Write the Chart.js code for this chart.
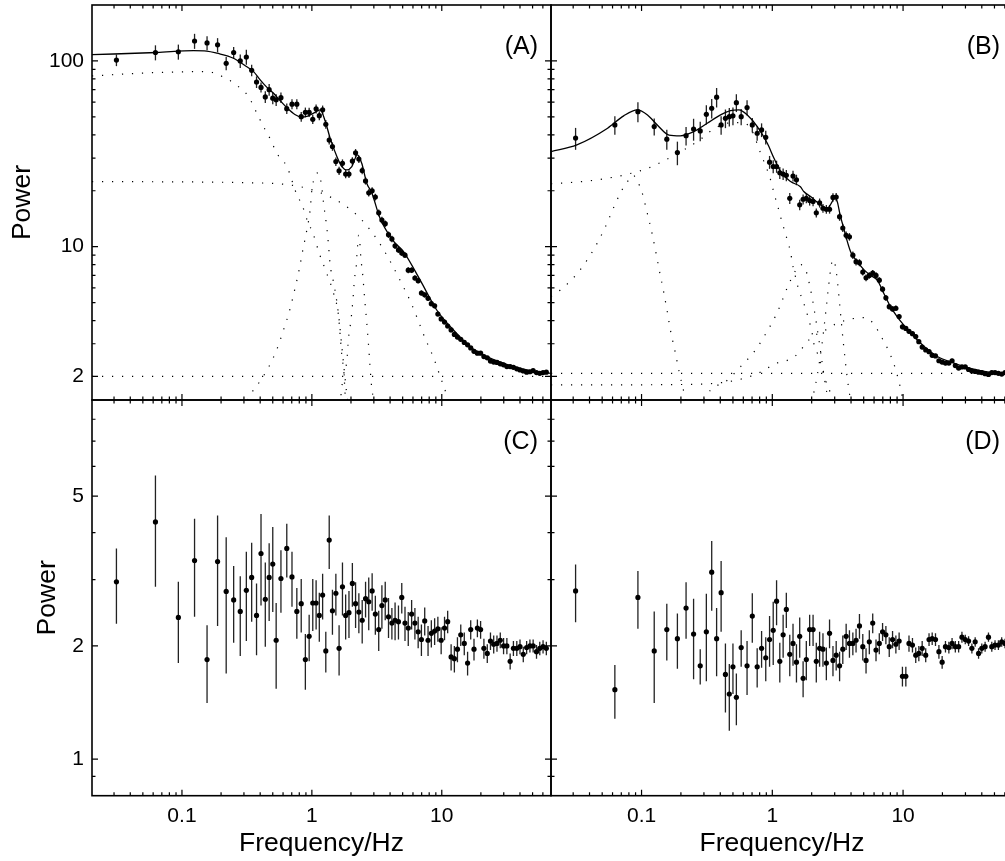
<!DOCTYPE html>
<html>
<head>
<meta charset="utf-8">
<title>Power spectra</title>
<script src="https://cdn.jsdelivr.net/npm/chart.js"></script>
<style>
  html, body { margin: 0; padding: 0; background: #fff; overflow: hidden; }
  #wrap { position: relative; width: 1005px; height: 861px; overflow: hidden; }
  #wrap canvas { position: absolute; left: 0; top: 0; }
</style>
</head>
<body>
<div id="wrap">
  <canvas id="panel-a" width="1020" height="861"></canvas>
  <canvas id="panel-b" width="1020" height="861"></canvas>
  <canvas id="panel-c" width="1020" height="861"></canvas>
  <canvas id="panel-d" width="1020" height="861"></canvas>
</div>
<script>
// --- data: frequency bins (Hz), shared by all four panels ---
const freq = [0.0313, 0.0625, 0.0938, 0.125, 0.156, 0.188, 0.219, 0.25, 0.281, 0.313, 0.344, 0.375, 0.406, 0.438, 0.469, 0.5, 0.531,
  0.578, 0.641, 0.703, 0.766, 0.828, 0.891, 0.953, 1.016, 1.078, 1.141,
  1.21, 1.28, 1.36, 1.44, 1.53, 1.62, 1.72, 1.82, 1.93, 2.05, 2.17, 2.30, 2.44, 2.59, 2.74, 2.91, 3.08,
  3.27, 3.46, 3.67, 3.89, 4.13, 4.37, 4.64, 4.92, 5.21, 5.52, 5.86, 6.21, 6.58, 6.97, 7.39, 7.84, 8.31, 8.81, 9.33, 9.89,
  10.5, 11.1, 11.8, 12.5, 13.2, 14.0, 14.9, 15.8, 16.7, 17.7, 18.8, 19.9, 21.1, 22.4, 23.7, 25.1, 26.6, 28.2, 29.9, 31.7,
  33.6, 35.6, 37.8, 40.0, 42.4, 45.0, 47.7, 50.5, 53.6, 56.8, 60.2, 63.8];

// panel A: power and fractional error
const powerA = [101, 111, 112, 128, 125, 122, 97, 111, 100, 105, 89, 77, 72, 64, 70, 63, 61.7,
  63.4, 55.3, 58.5, 58.5, 50.1, 52.9, 52.9, 48.5, 55.2, 50.7,
  54.5, 45.6, 37.5, 34.6, 28.7, 25.6, 28.1, 24.6, 24.6, 28.9, 32.0, 29.6, 25.7, 22.6, 19.5, 20.0, 18.5,
  15.2, 13.9, 13.3, 11.6, 11.0, 10.1, 9.6, 9.25, 9.0, 7.47, 7.47, 6.78, 6.56, 5.63, 5.50, 5.27, 4.93, 4.80, 4.34, 4.08,
  3.93, 3.74, 3.56, 3.37, 3.26, 3.17, 3.05, 2.96, 2.85, 2.73, 2.67, 2.67, 2.56, 2.52, 2.42, 2.39, 2.38, 2.34, 2.31, 2.26,
  2.26, 2.24, 2.20, 2.17, 2.14, 2.11, 2.12, 2.15, 2.10, 2.08, 2.10, 2.11];
const relErrA = [0.072, 0.093, 0.093, 0.093, 0.087, 0.087, 0.083, 0.072, 0.083, 0.093, 0.072, 0.072, 0.062, 0.072, 0.072, 0.072, 0.072,
  0.065, 0.065, 0.062, 0.062, 0.06, 0.06, 0.058, 0.058, 0.056, 0.056,
  0.055, 0.054, 0.053, 0.052, 0.052, 0.051, 0.05, 0.05, 0.049, 0.048, 0.048, 0.047, 0.046, 0.045, 0.045, 0.044, 0.043,
  0.042, 0.041, 0.041, 0.040, 0.039, 0.038, 0.038, 0.037, 0.036, 0.036, 0.035, 0.034, 0.034, 0.033, 0.032, 0.032, 0.031, 0.030, 0.030, 0.029,
  0.029, 0.028, 0.028, 0.027, 0.027, 0.026, 0.026, 0.025, 0.025, 0.025, 0.024, 0.024, 0.024, 0.023, 0.023, 0.023, 0.022, 0.022, 0.022, 0.021,
  0.021, 0.021, 0.021, 0.020, 0.020, 0.020, 0.020, 0.019, 0.019, 0.019, 0.019, 0.019];

// panel B: power and fractional error
const powerB = [38.4, 45.2, 53.3, 44.3, 37.9, 32.1, 39.6, 43.0, 42.0, 51.6, 55.6, 63.8, 45.2, 49.1, 50.1, 50.6, 59.6,
  50.1, 56.1, 45.2, 40.8, 42.5, 38.8, 28.5, 27.0, 27.0, 25.0,
  24.6, 24.2, 18.2, 24.0, 22.9, 16.8, 18.0, 18.2, 17.7, 17.5, 15.2, 17.2, 16.1, 15.9, 15.9, 18.4, 18.5,
  14.5, 12.6, 11.5, 11.3, 9.0, 8.3, 8.2, 7.3, 6.8, 7.0, 7.2, 7.0, 6.6, 5.9, 5.3, 4.75, 4.62, 4.66, 4.2, 3.7,
  3.63, 3.5, 3.4, 3.28, 3.08, 2.88, 2.78, 2.72, 2.6, 2.58, 2.43, 2.39, 2.36, 2.36, 2.43, 2.29, 2.22, 2.25, 2.25, 2.18,
  2.14, 2.13, 2.11, 2.10, 2.07, 2.05, 2.10, 2.10, 2.08, 2.06, 2.10, 2.08];
const relErrB = [0.135, 0.114, 0.124, 0.104, 0.124, 0.145, 0.114, 0.135, 0.12, 0.12, 0.12, 0.12, 0.115, 0.115, 0.115, 0.11, 0.11,
  0.10, 0.095, 0.09, 0.09, 0.085, 0.085, 0.08, 0.08, 0.075, 0.075,
  0.07, 0.07, 0.068, 0.066, 0.065, 0.064, 0.062, 0.06, 0.06, 0.058, 0.057, 0.056, 0.055, 0.054, 0.053, 0.052, 0.05,
  0.05, 0.049, 0.048, 0.047, 0.046, 0.045, 0.044, 0.043, 0.042, 0.041, 0.04, 0.039, 0.038, 0.037, 0.036, 0.035, 0.034, 0.033, 0.032, 0.031,
  0.03, 0.03, 0.029, 0.029, 0.028, 0.028, 0.027, 0.027, 0.026, 0.026, 0.025, 0.025, 0.025, 0.024, 0.024, 0.024, 0.023, 0.023, 0.023, 0.022,
  0.022, 0.022, 0.022, 0.021, 0.021, 0.021, 0.021, 0.02, 0.02, 0.02, 0.02, 0.02];

// panel C and D: power with absolute 1-sigma error
const powerC = [2.96, 4.27, 2.38, 3.37, 1.84, 3.35, 2.79, 2.65, 2.47, 2.81, 3.04, 2.41, 3.52, 2.66, 3.04, 3.30, 2.07,
  3.02, 3.63, 3.05, 2.47, 2.59, 1.84, 2.12, 2.60, 2.60, 2.41,
  2.73, 1.94, 3.82, 2.48, 2.76, 1.97, 2.87, 2.41, 2.45, 2.93, 2.59, 2.46, 2.34, 2.67, 2.62, 2.80, 2.43,
  2.21, 2.56, 2.65, 2.39, 2.30, 2.34, 2.32, 2.69, 2.30, 2.23, 2.43, 2.30, 2.18, 2.08, 2.33, 2.07, 2.16, 2.19, 2.22, 2.07,
  2.23, 2.32, 1.87, 1.85, 1.96, 2.14, 2.03, 1.80, 2.21, 1.96, 2.23, 2.21, 1.97, 1.91, 2.06, 2.02, 2.03, 2.07, 2.00, 2.00,
  1.82, 1.97, 1.97, 1.99, 1.90, 1.98, 2.00, 2.00, 1.93, 1.97, 1.99, 1.97];
const errC = [0.67, 1.40, 0.58, 0.98, 0.43, 1.09, 1.10, 0.61, 0.59, 0.75, 0.72, 0.52, 0.96, 0.67, 0.71, 0.84, 0.53,
  0.57, 0.59, 0.51, 0.38, 0.42, 0.31, 0.30, 0.41, 0.39, 0.36,
  0.38, 0.24, 0.62, 0.34, 0.35, 0.30, 0.46, 0.33, 0.35, 0.39, 0.36, 0.30, 0.31, 0.29, 0.42, 0.32, 0.29,
  0.27, 0.34, 0.31, 0.29, 0.22, 0.27, 0.24, 0.25, 0.24, 0.23, 0.22, 0.22, 0.21, 0.20, 0.20, 0.19, 0.18, 0.18, 0.17, 0.17,
  0.16, 0.16, 0.15, 0.15, 0.15, 0.14, 0.14, 0.13, 0.13, 0.13, 0.12, 0.12, 0.12, 0.11, 0.11, 0.11, 0.10, 0.10, 0.10, 0.10,
  0.09, 0.09, 0.09, 0.09, 0.09, 0.08, 0.08, 0.08, 0.08, 0.08, 0.08, 0.08];
const powerD = [2.80, 1.53, 2.69, 1.94, 2.21, 2.09, 2.52, 2.15, 1.77, 2.18, 3.14, 2.09, 2.77, 1.68, 1.49, 1.76, 1.46,
  1.98, 1.77, 2.40, 1.76, 1.97, 1.86, 2.08, 2.20, 2.63, 1.82,
  2.14, 2.50, 1.90, 2.03, 1.81, 2.12, 1.64, 1.84, 2.21, 2.21, 1.82, 1.97, 1.96, 1.80, 2.16, 1.83, 1.89,
  1.77, 1.96, 2.12, 2.03, 2.03, 2.07, 2.26, 1.99, 1.83, 2.05, 2.30, 1.95, 2.03, 2.18, 2.14, 1.99, 2.08, 2.02, 2.06, 1.66,
  1.66, 2.03, 2.01, 1.89, 1.91, 1.97, 1.89, 2.08, 2.09, 2.08, 1.93, 1.81, 1.99, 1.98, 2.03, 1.99, 1.99, 2.11, 2.08, 2.06,
  1.97, 2.05, 1.91, 1.97, 1.99, 2.11, 1.99, 2.01, 2.01, 2.05, 2.03, 2.01];
const errD = [0.49, 0.25, 0.47, 0.53, 0.38, 0.35, 0.43, 0.52, 0.19, 0.57, 0.66, 0.43, 0.59, 0.35, 0.30, 0.27, 0.23,
  0.22, 0.29, 0.36, 0.21, 0.22, 0.25, 0.32, 0.42, 0.36, 0.22,
  0.28, 0.27, 0.24, 0.26, 0.21, 0.26, 0.18, 0.22, 0.21, 0.21, 0.22, 0.21, 0.20, 0.18, 0.19, 0.17, 0.17,
  0.16, 0.17, 0.17, 0.17, 0.14, 0.15, 0.17, 0.16, 0.14, 0.15, 0.14, 0.13, 0.13, 0.12, 0.12, 0.12, 0.11, 0.11, 0.11, 0.10,
  0.10, 0.10, 0.09, 0.09, 0.09, 0.09, 0.08, 0.08, 0.08, 0.08, 0.08, 0.07, 0.07, 0.07, 0.07, 0.07, 0.07, 0.07, 0.06, 0.06,
  0.06, 0.06, 0.06, 0.06, 0.06, 0.06, 0.06, 0.06, 0.06, 0.06, 0.06, 0.06];

// best-fit model (solid)
const modelFreqA = [0.0203, 0.064, 0.123, 0.155, 0.186, 0.249, 0.316, 0.356, 0.40, 0.451, 0.507, 0.571, 0.642, 0.74, 0.838, 0.93, 1.03, 1.16, 1.27, 1.38,
  1.56, 1.70, 1.86, 2.03, 2.24, 2.42, 2.65, 2.89, 3.35, 4.2, 5.07, 6.8, 9.14, 12.3, 16.5, 22.2, 29.8, 40.1, 53.8, 69.3];
const modelA = [108, 111, 113.6, 113, 110, 103.4, 93, 87.6, 79, 72, 67, 61, 56, 51.5, 49.8, 50.5, 52.3, 54.5, 47.1, 38.5,
  30.5, 27, 25.9, 27, 31.2, 28.1, 21.9, 19.5, 14.2, 10.8, 9.4, 6.62, 4.56, 3.56, 2.89, 2.56, 2.36, 2.21, 2.12, 2.08];
const modelFreqB = [0.0203, 0.032, 0.055, 0.073, 0.093, 0.111, 0.132, 0.162, 0.198, 0.251, 0.318, 0.402, 0.48, 0.555, 0.644, 0.768, 0.916, 1.03, 1.16, 1.38,
  1.64, 1.74, 1.96, 2.34, 2.63, 2.85, 3.0, 3.15, 3.3, 3.43, 3.97, 4.47, 5.03, 5.65, 6.35, 7.13, 8.02, 9.0, 10.1, 12.1,
  14.5, 18.3, 24.5, 32.8, 44.1, 60, 69.3];
const modelB = [32.5, 35.3, 43.4, 50.6, 54.5, 51.2, 45.2, 39.9, 39.5, 41.6, 46.2, 51.2, 54.0, 54.5, 51.2, 44.3, 36.0, 29.9, 25.3, 22.4,
  21.0, 19.8, 18.6, 16.8, 16.1, 17.3, 18.5, 17.3, 14.8, 13.4, 9.4, 8.3, 7.5, 7.0, 6.6, 5.6, 4.75, 4.2, 3.79, 3.28,
  2.9, 2.56, 2.36, 2.21, 2.12, 2.08, 2.07];

// model components (dotted), panel A
const constFreqA = [0.0203, 69.3];
const constA = [2.0, 2.0];
const broadFreqA = [0.0203, 0.05, 0.1, 0.155, 0.222, 0.272, 0.325, 0.377, 0.424, 0.478, 0.538, 0.642, 0.767, 0.84, 0.93, 1.02, 1.14, 1.29, 1.47, 1.60, 1.65, 1.70, 1.77, 1.80, 1.85];
const broadA = [83, 86, 87.3, 87.6, 80, 72.7, 64.3, 52.3, 44.3, 38, 31.8, 27, 19, 16.8, 13.6, 11.8, 9.2, 7.3, 5.6, 4.3, 3.35, 2.61, 2.04, 1.63, 1.35];
const midFreqA = [0.0203, 0.316, 0.767, 1.19, 1.65, 2.22, 2.81, 3.45, 4.12, 4.86, 5.70, 6.53, 7.44, 8.61, 9.70, 10.9, 11.5];
const midA = [22.4, 22.1, 21.2, 19.4, 17.3, 14.8, 12.3, 10.0, 8.04, 6.43, 5.12, 4.06, 3.21, 2.54, 2.01, 1.59, 1.4];
const qpo1FreqA = [0.32, 0.345, 0.381, 0.464, 0.538, 0.605, 0.672, 0.735, 0.798, 0.852, 0.915, 0.97, 1.0, 1.06, 1.12, 1.18, 1.23, 1.29, 1.34, 1.38, 1.47, 1.56, 1.63, 1.70, 1.77, 1.84, 1.90];
const qpo1A = [1.49, 1.64, 1.80, 2.24, 2.8, 3.56, 4.5, 5.8, 7.5, 9.6, 12.3, 15.8, 20.2, 24, 25, 22, 17.1, 13.4, 10.4, 8.1, 6.4, 5.0, 3.9, 2.9, 2.2, 1.7, 1.4];
const qpo2FreqA = [1.65, 1.70, 1.86, 1.91, 2.0, 2.07, 2.13, 2.19, 2.24, 2.29, 2.34, 2.38, 2.47, 2.54, 2.62, 2.70, 2.77, 2.84, 2.89, 2.97, 3.02];
const qpo2A = [1.4, 1.76, 2.45, 3.15, 4.03, 5.16, 6.76, 7.66, 9.8, 11.5, 10.5, 8.8, 6.9, 5.4, 4.2, 3.28, 2.56, 2.0, 1.73, 1.53, 1.4];

// model components (dotted), panel B
const constFreqB = [0.0203, 69.3];
const constB = [2.08, 2.08];
const lowFreqB = [0.0203, 0.2, 0.4, 0.6, 0.8, 1.08, 1.28, 1.51, 1.96, 2.56, 3.14, 4.34, 5.17, 5.9, 6.5, 7.1, 7.7, 8.3, 8.8, 9.2, 9.6, 10.0, 10.4];
const lowB = [1.80, 1.81, 1.85, 1.95, 2.1, 2.36, 2.43, 2.59, 3.21, 3.56, 3.87, 4.12, 4.15, 3.87, 3.48, 3.1, 2.78, 2.45, 2.17, 1.93, 1.71, 1.5, 1.4];
const lfqpoFreqB = [0.0203, 0.024, 0.031, 0.0385, 0.046, 0.054, 0.062, 0.072, 0.080, 0.086, 0.093, 0.1, 0.109, 0.119, 0.128, 0.137, 0.147, 0.157, 0.167, 0.18, 0.193, 0.209, 0.22];
const lfqpoB = [5.4, 5.85, 6.95, 8.5, 10.5, 13.2, 16.6, 20.6, 22.9, 24.3, 22.4, 20.0, 15.8, 12.2, 9.5, 7.4, 5.8, 4.5, 3.5, 2.75, 2.15, 1.69, 1.45];
const humpFreqB = [0.0203, 0.0277, 0.0395, 0.056, 0.079, 0.111, 0.153, 0.211, 0.283, 0.348, 0.453, 0.572, 0.682, 0.814, 0.97, 1.03, 1.14, 1.19, 1.26, 1.32,
  1.38, 1.42, 1.51, 1.6, 1.70, 1.80, 1.91, 2.02, 2.08, 2.21, 2.34, 2.48, 2.63, 2.79, 2.9];
const humpB = [21.8, 22.1, 22.6, 23.4, 24.6, 26.4, 29.3, 33.2, 37.9, 42.5, 46.2, 46.5, 43.4, 31.8, 22.9, 19.4, 15.1, 13.4, 11.8, 10.4,
  9.4, 8.2, 6.8, 5.8, 5.2, 4.6, 4.0, 3.4, 3.0, 2.67, 2.36, 2.04, 1.8, 1.62, 1.45];
const qpo1FreqB = [0.30, 0.337, 0.453, 0.572, 0.736, 0.889, 1.06, 1.14, 1.3, 1.5, 1.65, 1.8, 1.95, 2.1, 2.25, 2.4, 2.55, 2.7];
const qpo1B = [1.5, 1.69, 1.91, 2.26, 2.75, 3.39, 4.24, 4.75, 6.0, 7.4, 8.0, 7.5, 6.0, 4.5, 3.3, 2.4, 1.8, 1.45];
const qpo2FreqB = [2.0, 2.2, 2.4, 2.55, 2.7, 2.82, 2.9, 3.0, 3.15, 3.3, 3.5, 3.7, 3.9, 4.1];
const qpo2B = [1.45, 2.0, 3.0, 4.3, 6.2, 7.9, 8.5, 8.2, 6.5, 4.6, 3.0, 2.1, 1.6, 1.4];

// axis ticks
const xMajorTicks = [0.1, 1, 10];
const xMinorTicks = [0.03, 0.04, 0.05, 0.06, 0.07, 0.08, 0.09, 0.2, 0.3, 0.4, 0.5, 0.6, 0.7, 0.8, 0.9,
  2, 3, 4, 5, 6, 7, 8, 9, 20, 30, 40, 50, 60];
const yMajorTop = [2, 10, 100];
const yMinorTop = [3, 4, 5, 6, 7, 8, 9, 20, 30, 40, 50, 60, 70, 80, 90];
const yMajorBottom = [1, 2, 5];
const yMinorBottom = [0.9, 3, 4, 6, 7, 8];

// --- drawing ---
const FONT = "'Liberation Sans', Arial, Helvetica, sans-serif";
const X_MIN = 0.0203, X_MAX = 69.3;
const CANVAS_W = 1020, CANVAS_H = 861;

function xy(xs, ys) {
  return xs.map((x, i) => ({ x: x, y: ys[i] }));
}

function pointSet(values, errors) {
  return {
    data: xy(freq, values),
    errors: errors,
    showLine: false,
    pointRadius: 2.6,
    pointBackgroundColor: '#000',
    pointBorderWidth: 0,
    borderColor: '#000'
  };
}

function curveSet(xs, ys, dotted) {
  return {
    data: xy(xs, ys),
    borderColor: '#000',
    borderWidth: dotted ? 1.2 : 1.3,
    borderDash: dotted ? [1.2, 8.8] : [],
    pointRadius: 0,
    cubicInterpolationMode: 'monotone',
    fill: false
  };
}

// vertical error bars, drawn under the markers
const errorBars = {
  id: 'errorBars',
  beforeDatasetsDraw(chart) {
    const { ctx, chartArea: a } = chart;
    const yScale = chart.scales.y;
    ctx.save();
    ctx.beginPath();
    ctx.rect(a.left, a.top, a.right - a.left, a.bottom - a.top);
    ctx.clip();
    ctx.strokeStyle = '#222';
    ctx.lineWidth = 1.3;
    chart.data.datasets.forEach((ds, i) => {
      if (!ds.errors) return;
      chart.getDatasetMeta(i).data.forEach((pt, j) => {
        const v = ds.data[j].y, e = ds.errors[j];
        const y1 = yScale.getPixelForValue(Math.max(v - e, 0.01));
        const y2 = yScale.getPixelForValue(v + e);
        ctx.beginPath();
        ctx.moveTo(pt.x, y1);
        ctx.lineTo(pt.x, y2);
        ctx.stroke();
      });
    });
    ctx.restore();
  }
};

// frame, inward ticks on all four sides, panel tag
const frameTicks = {
  id: 'frameTicks',
  afterDraw(chart, args, opts) {
    const { ctx, chartArea: a } = chart;
    const xs = chart.scales.x, ys = chart.scales.y;
    ctx.save();
    ctx.strokeStyle = '#000';
    ctx.lineWidth = 1.2;
    const xTicks = (vals, len) => vals.forEach(v => {
      const p = xs.getPixelForValue(v);
      if (p < a.left + 1 || p > a.right - 1) return;
      ctx.beginPath();
      ctx.moveTo(p, a.bottom); ctx.lineTo(p, a.bottom - len);
      ctx.moveTo(p, a.top); ctx.lineTo(p, a.top + len);
      ctx.stroke();
    });
    const yTicks = (vals, len) => vals.forEach(v => {
      const p = ys.getPixelForValue(v);
      if (p < a.top + 1 || p > a.bottom - 1) return;
      ctx.beginPath();
      ctx.moveTo(a.left, p); ctx.lineTo(a.left + len, p);
      ctx.moveTo(a.right, p); ctx.lineTo(a.right - len, p);
      ctx.stroke();
    });
    xTicks(xMajorTicks, 6);
    xTicks(xMinorTicks, 3.5);
    yTicks(opts.yMajor, 6);
    yTicks(opts.yMinor, 3.5);

    ctx.lineWidth = 1.6;
    ctx.strokeRect(a.left, a.top, a.right - a.left, a.bottom - a.top);

    ctx.fillStyle = '#000';
    ctx.font = '25px ' + FONT;
    ctx.textAlign = 'right';
    ctx.textBaseline = 'middle';
    ctx.fillText(opts.tag, a.right - 13, a.top + 42.5);
    ctx.restore();
  }
};

function makePanel(id, cfg) {
  const area = cfg.area;
  const zeroPad = s => { s.paddingLeft = 0; s.paddingRight = 0; s.paddingTop = 0; s.paddingBottom = 0; };
  return new Chart(document.getElementById(id), {
    type: 'line',
    data: { datasets: cfg.datasets },
    plugins: [errorBars, frameTicks],
    options: {
      responsive: false,
      devicePixelRatio: 1,
      animation: false,
      events: [],
      layout: { padding: { left: 0, top: area.top, right: CANVAS_W - area.right, bottom: 0 } },
      plugins: {
        legend: { display: false },
        tooltip: { enabled: false },
        frameTicks: { yMajor: cfg.yMajor, yMinor: cfg.yMinor, tag: cfg.tag }
      },
      scales: {
        x: {
          type: 'logarithmic',
          position: 'bottom',
          min: X_MIN,
          max: X_MAX,
          grid: { display: false, drawTicks: false },
          border: { display: false },
          afterBuildTicks: s => { s.ticks = xMajorTicks.map(v => ({ value: v })); },
          ticks: {
            display: cfg.xLabels,
            autoSkip: false,
            maxRotation: 0,
            padding: 8,
            color: '#000',
            font: { family: FONT, size: 21 },
            callback: v => String(v)
          },
          title: {
            display: cfg.xLabels,
            text: 'Frequency/Hz',
            color: '#000',
            font: { family: FONT, size: 26.5 },
            padding: { top: 0, bottom: 1 }
          },
          afterFit: s => { s.height = CANVAS_H - area.bottom; zeroPad(s); }
        },
        y: {
          type: 'logarithmic',
          position: 'left',
          min: cfg.yMin,
          max: cfg.yMax,
          grid: { display: false, drawTicks: false },
          border: { display: false },
          afterBuildTicks: s => { s.ticks = cfg.yMajor.map(v => ({ value: v })); },
          ticks: {
            display: cfg.yLabels,
            autoSkip: false,
            padding: 8,
            color: '#000',
            font: { family: FONT, size: 21 },
            callback: v => String(v)
          },
          title: {
            display: cfg.yLabels,
            text: 'Power',
            color: '#000',
            font: { family: FONT, size: 26.5 },
            padding: { top: cfg.yTitlePad, bottom: 0 }
          },
          afterFit: s => { s.width = area.left; zeroPad(s); }
        }
      }
    }
  });
}

const absErrA = relErrA.map((r, i) => r * powerA[i]);
const absErrB = relErrB.map((r, i) => r * powerB[i]);

makePanel('panel-a', {
  area: { left: 92, top: 5, right: 551, bottom: 400 },
  yMin: 1.494, yMax: 200, yMajor: yMajorTop, yMinor: yMinorTop,
  xLabels: false, yLabels: true, yTitlePad: 6.5, tag: '(A)',
  datasets: [
    pointSet(powerA, absErrA),
    curveSet(modelFreqA, modelA, false),
    curveSet(constFreqA, constA, true),
    curveSet(broadFreqA, broadA, true),
    curveSet(midFreqA, midA, true),
    curveSet(qpo1FreqA, qpo1A, true),
    curveSet(qpo2FreqA, qpo2A, true)
  ]
});

makePanel('panel-b', {
  area: { left: 551, top: 5, right: 1013, bottom: 400 },
  yMin: 1.494, yMax: 200, yMajor: yMajorTop, yMinor: yMinorTop,
  xLabels: false, yLabels: false, yTitlePad: 0, tag: '(B)',
  datasets: [
    pointSet(powerB, absErrB),
    curveSet(modelFreqB, modelB, false),
    curveSet(constFreqB, constB, true),
    curveSet(lowFreqB, lowB, true),
    curveSet(lfqpoFreqB, lfqpoB, true),
    curveSet(humpFreqB, humpB, true),
    curveSet(qpo1FreqB, qpo1B, true),
    curveSet(qpo2FreqB, qpo2B, true)
  ]
});

makePanel('panel-c', {
  area: { left: 92, top: 400, right: 551, bottom: 795.7 },
  yMin: 0.8, yMax: 9.0, yMajor: yMajorBottom, yMinor: yMinorBottom,
  xLabels: true, yLabels: true, yTitlePad: 31.5, tag: '(C)',
  datasets: [pointSet(powerC, errC)]
});

makePanel('panel-d', {
  area: { left: 551, top: 400, right: 1013, bottom: 795.7 },
  yMin: 0.8, yMax: 9.0, yMajor: yMajorBottom, yMinor: yMinorBottom,
  xLabels: true, yLabels: false, yTitlePad: 0, tag: '(D)',
  datasets: [pointSet(powerD, errD)]
});
</script>
</body>
</html>
